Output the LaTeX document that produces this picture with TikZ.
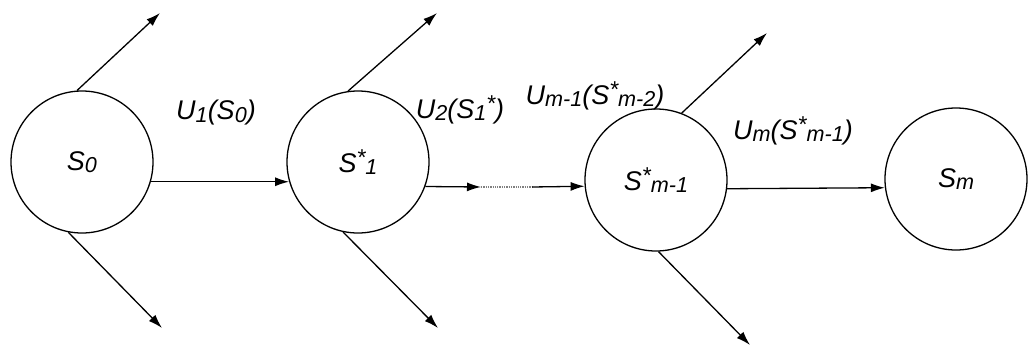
\documentclass[tikz,border=0pt]{standalone}
\usepackage{fontspec}
\setmainfont{Liberation Sans}
\usetikzlibrary{arrows.meta}
\newcommand\lo[1]{\raisebox{-0.15ex}{\scalebox{0.8}{#1}}}
\newcommand\hi[1]{\raisebox{0.45ex}{\scalebox{0.85}{#1}}}
\begin{document}
\begin{tikzpicture}[x=1pt,y=-1pt,
  state/.style={circle,draw,line width=1.3pt,minimum size=142pt,inner sep=0pt,
    font=\fontsize{27}{30}\selectfont\itshape},
  lbl/.style={font=\fontsize{27}{30}\selectfont\itshape,inner sep=0pt},
  arr/.style={line width=1.3pt,-{Latex[length=14pt,width=9pt]}},
  dots/.style={line width=1.3pt,densely dotted,gray}]
\useasboundingbox (0,0) rectangle (1029,351);
\node[state] (s0) at (82,162) {S\lo{0}};
\node[state] (s1) at (358,162) {S\hi{*}\lo{1}};
\node[state] (sm1) at (656,180) {S\hi{*}\lo{m-1}};
\node[state] (sm) at (956,179) {S\lo{m}};
% free ends
\coordinate (a0u) at (160,13);
\coordinate (a0d) at (162,328);
\coordinate (a1u) at (437,13);
\coordinate (a1d) at (438,328);
\coordinate (a2u) at (767,33);
\coordinate (a2d) at (750,345);
\coordinate (d1) at (481,187);
\coordinate (d2) at (532,187);
% connectors
\draw[arr] (s0.-16) -- (s1.196);
\draw[arr] (s1.-20) -- (d1);
\draw[dots] (d1) -- (d2);
\draw[arr] (d2) -- (sm1.185);
\draw[arr] (sm1.-7) -- (sm.187);
\draw[arr] (s0.94) -- (a0u);
\draw[arr] (s0.259) -- (a0d);
\draw[arr] (s1.98) -- (a1u);
\draw[arr] (s1.258) -- (a1d);
\draw[arr] (sm1.69) -- (a2u);
\draw[arr] (sm1.272) -- (a2d);
% labels
\node[lbl] (l1) at (216,113) {U\lo{1}(S\lo{0})};
\node[lbl] (l2) at (460,110) {U\lo{2}(S\lo{1}\hi{*})};
\node[lbl] (l3) at (595,96) {U\lo{m-1}(S\hi{*}\lo{m-2})};
\node[lbl] (l4) at (793,131) {U\lo{m}(S\hi{*}\lo{m-1})};
\end{tikzpicture}
\end{document}
